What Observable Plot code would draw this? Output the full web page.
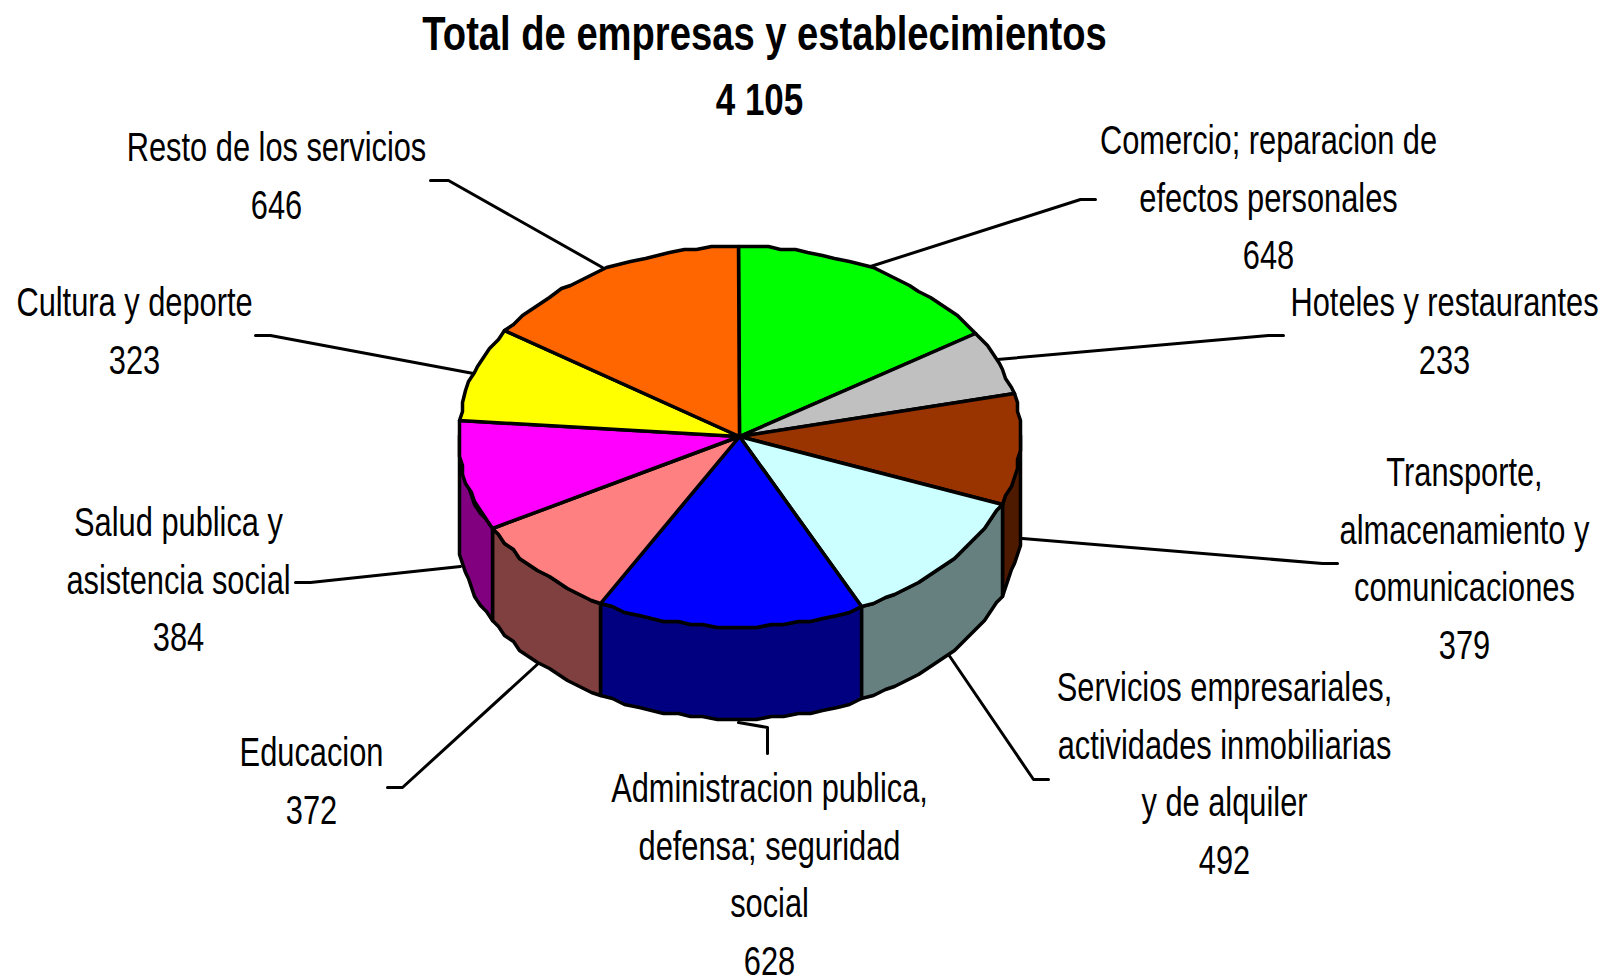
<!DOCTYPE html>
<html><head><meta charset="utf-8">
<script src="https://cdn.jsdelivr.net/npm/d3@7"></script>
<script src="https://cdn.jsdelivr.net/npm/@observablehq/plot@0.6"></script>
<style>html,body{margin:0;background:#fff}svg{display:block}</style>
</head><body><div id="c"></div>
<script>
const categories=["Comercio","Hoteles","Transporte","Servicios","Administracion","Educacion","Salud","Cultura","Resto"];
const values=[648,233,379,492,628,372,384,323,646];
const topColors=["#00ff00","#c0c0c0","#993300","#ccffff","#0000ff","#ff8080","#ff00ff","#ffff00","#ff6600"];
const sideColors=["#008000","#606060","#4d1a00","#668080","#000080","#804040","#800080","#808000","#803300"];
const labelLines=[
 ["Comercio; reparacion de","efectos personales","648"],
 ["Hoteles y restaurantes","233"],
 ["Transporte,","almacenamiento y","comunicaciones","379"],
 ["Servicios empresariales,","actividades inmobiliarias","y de alquiler","492"],
 ["Administracion publica,","defensa; seguridad","social","628"],
 ["Educacion","372"],
 ["Salud publica y","asistencia social","384"],
 ["Cultura y deporte","323"],
 ["Resto de los servicios","646"]];
const labelCenters=[[1268,141],[1444,303],[1464,473],[1224,688],[769,789],[311,753],[178,523],[134,303],[276,148]];
const leaders=[[[870,266],[1080,199],[1095,199]],[[997,359],[1268,335],[1283,335]],[[1022,538],[1322,563],[1337,563]],[[948,654],[1033,779],[1048,779]],[[738,722],[767,727],[767,753]],[[540,661],[402,787],[387,787]],[[460,566],[310,582],[295,582]],[[473,373],[270,335],[255,335]],[[602,267],[448,180],[430,180]]];
const total=d3.sum(values);
const cx=739,cy=436,rx=281,ry=190.5,depth=92,grid=3;
const snap=v=>Math.round(v/grid)*grid;
const pt=(a,dy=0)=>{const c=Math.cos(a);return[snap(cx+rx*Math.sin(a)+(c<0?3*c:0)),snap(cy-ry*c)+dy];};
let c=0;const slices=values.map((v,i)=>{const a0=c/total*2*Math.PI;c+=v;return{i,a0,a1:c/total*2*Math.PI};});
const arc=(a0,a1,dy=0)=>{const n=Math.max(2,Math.ceil((a1-a0)/0.05));return d3.range(n+1).map(k=>pt(a0+(a1-a0)*k/n,dy));};
const tops=slices.flatMap(s=>[[cx,cy],...arc(s.a0,s.a1),[cx,cy]].map(p=>({s:s.i,x:p[0],y:p[1]})));
const walls=slices.flatMap(s=>{const a0=Math.max(s.a0,Math.PI/2),a1=Math.min(s.a1,1.5*Math.PI);if(a1<=a0)return[];
 const t=arc(a0,a1),b=arc(a0,a1,depth).reverse();return [...t,...b,t[0]].map(p=>({s:s.i,x:p[0],y:p[1]}));});
const leaderRows=leaders.flatMap((l,i)=>l.map(p=>({i,x:p[0],y:p[1]})));
const lh=57.5;
const texts=labelLines.flatMap((ls,i)=>ls.map((t,k)=>({t,x:labelCenters[i][0],y:labelCenters[i][1]+k*lh})));
const font="Liberation Sans";
const plot=Plot.plot({width:1606,height:977,margin:0,x:{domain:[0,1606],axis:null},y:{domain:[977,0],axis:null},
 marks:[
  Plot.line(leaderRows,{x:"x",y:"y",z:"i",stroke:"#000",strokeWidth:3,curve:"linear"}),
  Plot.line(walls,{x:"x",y:"y",z:"s",fill:d=>sideColors[d.s],stroke:"#000",strokeWidth:3.5,curve:"linear"}),
  Plot.line(tops,{x:"x",y:"y",z:"s",fill:d=>topColors[d.s],stroke:"#000",strokeWidth:3.5,curve:"linear"}),
  Plot.text(texts,{x:"x",y:"y",text:"t",fontSize:40,fontFamily:font,fill:"#000",className:"lab"}),
  Plot.text(["Total de empresas y establecimientos"],{x:()=>764,y:()=>34,text:d=>d,fontSize:48,fontWeight:"bold",fontFamily:font,className:"ttl"}),
  Plot.text(["4 105"],{x:()=>759,y:()=>100,text:d=>d,fontSize:44,fontWeight:"bold",fontFamily:font,className:"ttl"})
 ]});
plot.style.background="#fff";
document.getElementById("c").append(plot);
// the reference's type is a vertically stretched face: narrow each text about its own anchor
plot.querySelectorAll(".lab text, g.lab text").forEach(t=>t.setAttribute("transform",(t.getAttribute("transform")||"")+" scale(0.77,1)"));
plot.querySelectorAll(".ttl text, g.ttl text").forEach(t=>t.setAttribute("transform",(t.getAttribute("transform")||"")+" scale(0.795,1)"));
</script></body></html>
